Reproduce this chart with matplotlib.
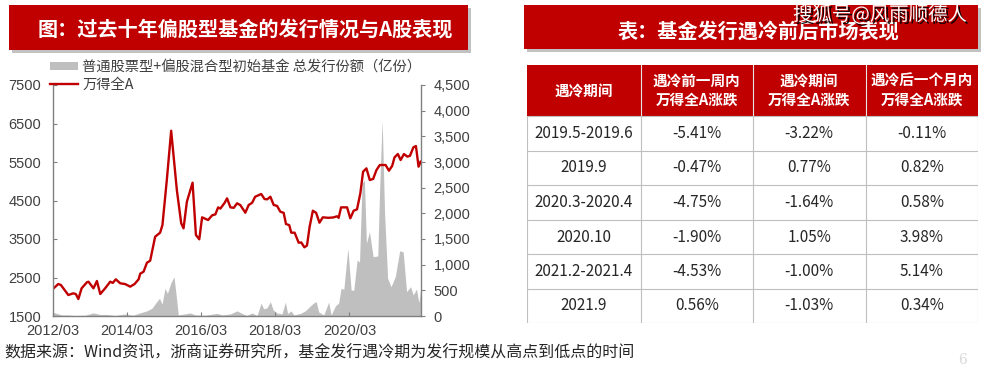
import matplotlib
matplotlib.use('Agg')
import matplotlib.pyplot as plt
import matplotlib.dates as mdates
import matplotlib.patches as mpatches
import matplotlib.patheffects as pe
from matplotlib.lines import Line2D
import pandas as pd

plt.rcParams['font.family'] = ['Noto Sans CJK SC', 'DejaVu Sans']

# ---- data ----
idx_dates = ['2012-03-07', '2012-04-22', '2012-05-18', '2012-07-30', '2012-09-17', '2012-10-12', '2012-11-06', '2012-12-08',
             '2013-01-29', '2013-02-14', '2013-04-04', '2013-05-08', '2013-06-10', '2013-07-28', '2013-09-16', '2013-10-12',
             '2013-11-10', '2013-12-24', '2014-02-10', '2014-04-01', '2014-05-14', '2014-06-23', '2014-07-09', '2014-08-11',
             '2014-09-13', '2014-10-15', '2014-12-03', '2015-01-21', '2015-02-13', '2015-03-28', '2015-05-10', '2015-07-05',
             '2015-08-17', '2015-09-09', '2015-10-12', '2015-12-07', '2016-01-09', '2016-02-11', '2016-03-10', '2016-05-08',
             '2016-06-17', '2016-07-19', '2016-08-15', '2016-09-06', '2016-10-19', '2016-11-11', '2016-12-14', '2017-01-16',
             '2017-02-18', '2017-03-22', '2017-05-10', '2017-06-12', '2017-07-16', '2017-08-15', '2017-10-14', '2017-11-15',
             '2017-12-12', '2018-01-12', '2018-02-14', '2018-03-19', '2018-04-20', '2018-05-23', '2018-06-15', '2018-07-17',
             '2018-08-06', '2018-09-08', '2018-10-18', '2018-11-13', '2018-12-13', '2019-01-08', '2019-02-03', '2019-03-07',
             '2019-04-08', '2019-05-11', '2019-06-13', '2019-08-06', '2019-09-25', '2019-10-31', '2019-11-16', '2019-12-10',
             '2020-02-07', '2020-03-10', '2020-04-12', '2020-05-15', '2020-06-17', '2020-07-14', '2020-08-16', '2020-09-18',
             '2020-10-21', '2020-11-23', '2020-12-26', '2021-02-21', '2021-03-26', '2021-04-27', '2021-05-20', '2021-06-22',
             '2021-07-19', '2021-08-21', '2021-09-23', '2021-10-19', '2021-11-22', '2021-12-17', '2022-01-12', '2022-02-01']
idx_vals = [2219, 2331, 2305, 2045, 2089, 2070, 1941, 2219,
            2375, 2390, 2219, 2409, 2071, 2219, 2391, 2360,
            2453, 2349, 2330, 2262, 2330, 2453, 2600, 2651,
            2884, 2936, 3560, 3664, 3863, 5032, 6312, 4772,
            3907, 3777, 4469, 4963, 3604, 3492, 4063, 3993,
            4115, 4140, 4322, 4290, 4443, 4556, 4322, 4310,
            4427, 4380, 4183, 4383, 4440, 4598, 4668, 4539,
            4530, 4598, 4383, 4360, 4209, 4180, 3889, 3860,
            3664, 3664, 3404, 3410, 3284, 3330, 3819, 4235,
            4180, 3923, 4063, 4050, 4060, 4090, 4050, 4322,
            4322, 4037, 4235, 4270, 4686, 5248, 5335, 5032,
            5060, 5292, 5422, 5422, 5274, 5400, 5621, 5707,
            5551, 5707, 5640, 5660, 5881, 5915, 5378, 5508]

fund_dates = ['2012-03-01', '2012-04-07', '2012-05-28', '2012-07-27', '2012-10-04', '2013-01-12', '2013-04-01', '2013-06-07',
              '2013-08-16', '2013-11-03', '2014-02-12', '2014-04-28', '2014-07-07', '2014-09-12', '2014-11-01', '2014-12-19',
              '2015-01-15', '2015-02-09', '2015-03-10', '2015-04-03', '2015-05-06', '2015-06-07', '2015-07-04', '2015-07-19',
              '2015-09-25', '2015-11-13', '2016-01-03', '2016-04-10', '2016-08-03', '2016-09-25', '2016-12-13', '2017-02-18',
              '2017-04-07', '2017-05-25', '2017-07-15', '2017-09-03', '2017-10-12', '2017-11-07', '2017-12-10', '2018-01-12',
              '2018-02-08', '2018-03-18', '2018-05-06', '2018-06-09', '2018-07-01', '2018-08-04', '2018-09-01', '2018-11-04',
              '2018-12-22', '2019-02-12', '2019-03-13', '2019-04-09', '2019-05-03', '2019-06-22', '2019-08-10', '2019-09-03',
              '2019-10-16', '2019-11-16', '2019-12-10', '2020-01-06', '2020-02-15', '2020-03-18', '2020-04-13', '2020-05-16',
              '2020-06-09', '2020-07-04', '2020-07-27', '2020-08-16', '2020-09-15', '2020-10-21', '2020-12-06', '2020-12-25',
              '2021-01-18', '2021-02-11', '2021-03-13', '2021-04-16', '2021-05-28', '2021-07-10', '2021-08-13', '2021-09-16',
              '2021-10-25', '2021-11-21', '2021-12-22', '2022-01-15', '2022-02-01']
fund_vals = [70, 50, 20, 20, 10, 15, 60, 30,
             30, 10, 40, 15, 60, 100, 150, 280,
             345, 230, 540, 440, 640, 765, 300, 20,
             40, 60, 20, 15, 50, 20, 40, 100,
             50, 10, 60, 10, 250, 140, 160, 280,
             120, 60, 40, 270, 50, 100, 20, 50,
             100, 200, 250, 280, 80, 20, 270, 20,
             200, 250, 540, 520, 1320, 506, 500, 1090,
             1050, 2585, 2650, 1416, 1640, 1155, 1170, 2520,
             3818, 2000, 734, 570, 770, 1270, 1250, 474,
             570, 410, 525, 260, 500]

x_ticks = ['2012-03-01', '2014-03-01', '2016-03-01', '2018-03-01', '2020-03-01']
left_ticks = [1500, 2500, 3500, 4500, 5500, 6500, 7500]
right_ticks = [0, 500, 1000, 1500, 2000, 2500, 3000, 3500, 4000, 4500]

col_heads = ['遇冷期间', '遇冷前一周内\n万得全A涨跌', '遇冷期间\n万得全A涨跌', '遇冷后一个月内\n万得全A涨跌']
periods = ['2019.5-2019.6', '2019.9', '2020.3-2020.4', '2020.10', '2021.2-2021.4', '2021.9']
chg_before = ['-5.41%', '-0.47%', '-4.75%', '-1.90%', '-4.53%', '0.56%']
chg_during = ['-3.22%', '0.77%', '-1.64%', '1.05%', '-1.00%', '-1.03%']
chg_after = ['-0.11%', '0.82%', '0.58%', '3.98%', '5.14%', '0.34%']

RED = '#C00000'
GRAY = '#BFBFBF'
SPINE = '#808080'
TXT = '#404040'
W, H = 991, 369

fig = plt.figure(figsize=(W / 100, H / 100), dpi=100)


def fx(px):
    return px / W


def fy(py):
    return 1 - py / H


def banner(x0, x1, y0, y1):
    shadow = mpatches.Rectangle((fx(x0 + 3), fy(y1 + 3)), (x1 - x0) / W, (y1 - y0) / H,
                                transform=fig.transFigure, color='#9a9a9a', alpha=0.6, lw=0)
    box = mpatches.Rectangle((fx(x0), fy(y1)), (x1 - x0) / W, (y1 - y0) / H,
                             transform=fig.transFigure, color=RED, lw=0)
    fig.add_artist(shadow)
    fig.add_artist(box)


banner(9, 468, 5, 50)
banner(524, 978, 5, 49)
fig.text(fx(38), fy(29), '图：过去十年偏股型基金的发行情况与A股表现', color='white',
         fontsize=14.5, fontweight='bold', va='center', ha='left')
fig.text(fx(618), fy(31), '表：基金发行遇冷前后市场表现', color='white',
         fontsize=14.5, fontweight='bold', va='center', ha='left')
# watermark stamped over the table title, as in the source image
fig.text(fx(793), fy(15), '搜狐号@风雨顺德人', color='white', fontsize=14, va='center', ha='left',
         path_effects=[pe.withSimplePatchShadow(offset=(1.5, -1.5), shadow_rgbFace='black', alpha=0.9)])

# ---- left chart ----
ax = fig.add_axes([fx(53), fy(316), (421 - 53) / W, (316 - 85) / H])
ax2 = ax.twinx()

ax2.fill_between(pd.to_datetime(fund_dates), 0, fund_vals, color=GRAY, lw=0)
ax.plot(pd.to_datetime(idx_dates), idx_vals, color=RED, lw=1.7)
ax.set_zorder(ax2.get_zorder() + 1)
ax.patch.set_visible(False)

ax.set_xlim(pd.Timestamp('2012-03-01'), pd.Timestamp('2022-02-05'))
ax.set_ylim(1500, 7500)
ax2.set_ylim(0, 4500)
ax.set_yticks(left_ticks)
ax2.set_yticks(right_ticks)
ax2.set_yticklabels([f'{v:,}' for v in right_ticks])
ax.set_xticks(pd.to_datetime(x_ticks))
ax.xaxis.set_major_formatter(mdates.DateFormatter('%Y/%m'))

for a in (ax, ax2):
    a.spines['top'].set_visible(False)
    for s in a.spines.values():
        s.set_color(SPINE)
        s.set_linewidth(1)
ax.spines['right'].set_visible(False)
ax2.spines['left'].set_visible(False)
ax2.spines['bottom'].set_visible(False)

ax.tick_params(axis='y', direction='in', length=3, color=SPINE, labelsize=10.5, labelcolor=TXT, pad=8.5)
ax.tick_params(axis='x', direction='in', length=3, color=SPINE, labelsize=10.5, labelcolor=TXT, pad=6)
ax2.tick_params(axis='y', direction='out', length=3, color=SPINE, labelsize=10.5, labelcolor=TXT, pad=6)
for lab in ax.get_xticklabels() + ax.get_yticklabels() + ax2.get_yticklabels():
    lab.set_fontfamily('Liberation Sans')

handles = [mpatches.Patch(facecolor=GRAY, edgecolor='none'), Line2D([], [], color=RED, lw=1.7)]
labels = ['普通股票型+偏股混合型初始基金 总发行份额（亿份）', '万得全A']
fig.legend(handles, labels, loc='upper left', bbox_to_anchor=(fx(50), fy(60)), frameon=False,
           fontsize=10.3, labelcolor=TXT, handlelength=1.95, handleheight=0.55, handletextpad=0.3,
           labelspacing=0.25, borderpad=0, borderaxespad=0)

# ---- table ----
col_edges = [0, 113.4, 225.4, 338.4, 451]
row_edges = [0, 51, 85.7, 120.3, 155, 189.3, 223.7, 257.7]
tx = fig.add_axes([fx(527.3), fy(322.7), 451 / W, 257.7 / H])
tx.set_xlim(0, 451)
tx.set_ylim(257.7, 0)
tx.axis('off')
tx.add_patch(mpatches.Rectangle((0, 0), 451, row_edges[1], color=RED, lw=0))
for xe in col_edges[1:-1]:
    tx.plot([xe, xe], [0, row_edges[1]], color='#e6e6e6', lw=0.8)
    tx.plot([xe, xe], [row_edges[1], row_edges[-1]], color=GRAY, lw=0.8)
for ye in row_edges[2:-1]:
    tx.plot([0, 451], [ye, ye], color=GRAY, lw=0.8)
tx.add_patch(mpatches.Rectangle((0, row_edges[1]), 451, row_edges[-1] - row_edges[1],
                                fill=False, edgecolor=GRAY, lw=0.8))
for j, head in enumerate(col_heads):
    tx.text((col_edges[j] + col_edges[j + 1]) / 2, row_edges[1] / 2, head, color='white',
            fontsize=10.5, fontweight='bold', ha='center', va='center', linespacing=1.25)
body = [periods, chg_before, chg_during, chg_after]
for j, col in enumerate(body):
    for i, val in enumerate(col):
        tx.text((col_edges[j] + col_edges[j + 1]) / 2, (row_edges[i + 1] + row_edges[i + 2]) / 2, val,
                color='#262626', fontsize=11, ha='center', va='center')

# ---- footer ----
fig.text(fx(4), fy(353), '数据来源：Wind资讯，浙商证券研究所，基金发行遇冷期为发行规模从高点到低点的时间',
         fontsize=11.5, color='#262626', va='center', ha='left')
fig.text(fx(958), fy(360), '6', fontsize=10, color='#d9d9d9', va='center', family='DejaVu Serif')

fig.savefig('out.png', dpi=100)
